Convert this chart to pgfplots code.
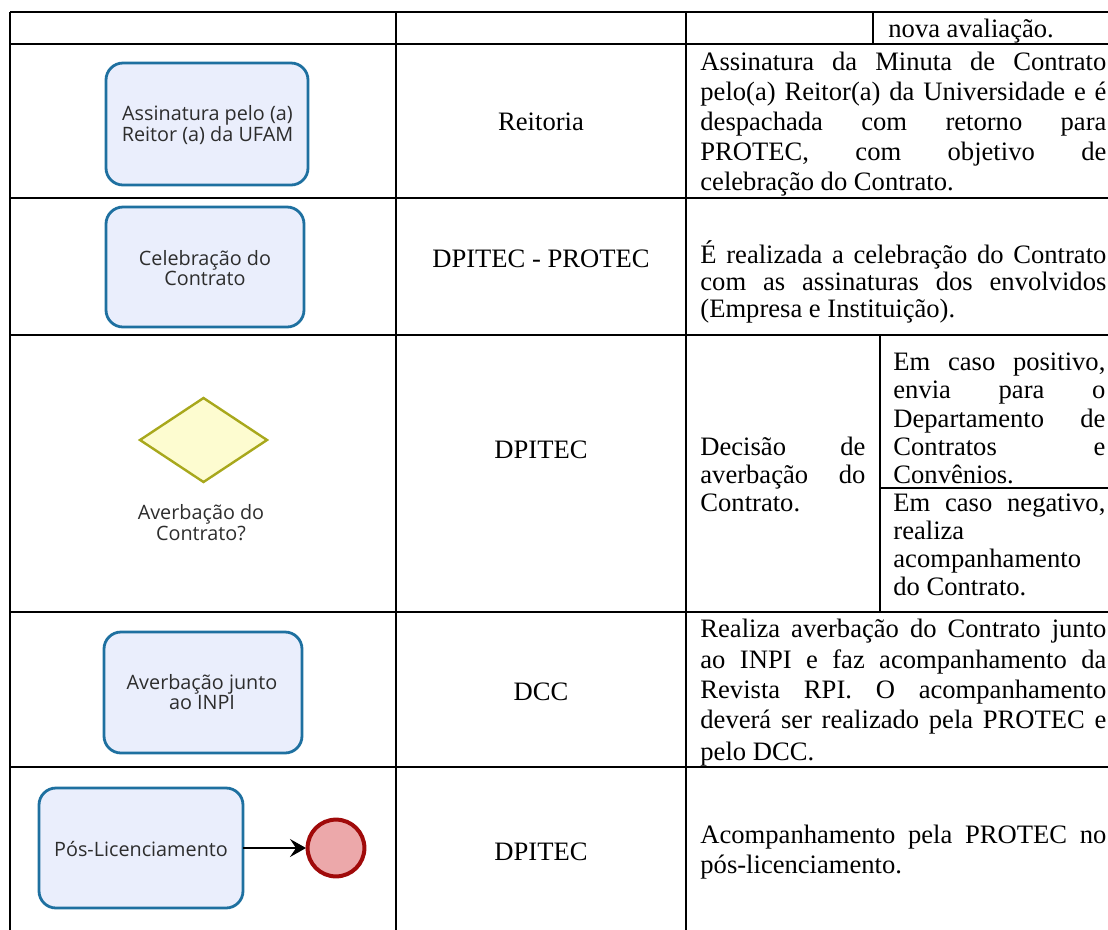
\documentclass[border=0pt]{standalone}
\usepackage{fontspec}
\setmainfont{Liberation Serif}
\newfontfamily\osans{Open Sans}
\usepackage{pgfplots}
\pgfplotsset{compat=1.18}
\usetikzlibrary{arrows.meta}
\definecolor{boxblue}{RGB}{30,112,160}
\definecolor{boxfill}{RGB}{234,238,252}
\definecolor{diafill}{RGB}{253,252,208}
\definecolor{diadraw}{RGB}{168,168,28}
\definecolor{endfill}{RGB}{236,168,170}
\definecolor{enddraw}{RGB}{160,10,10}
\definecolor{lbl}{RGB}{45,45,45}
\newcommand{\tabfont}{\fontsize{13.3}{15}\selectfont}
\newcommand{\boxfont}{\osans\fontsize{9.9}{10.4}\selectfont}
\newcommand{\tjust}[4]{\node[anchor=base west,inner sep=0pt,font=\tabfont] at (axis cs:#1,#2) {\makebox[#3][s]{#4}};}
\newcommand{\tleft}[3]{\node[anchor=base west,inner sep=0pt,font=\tabfont] at (axis cs:#1,#2) {#3};}
\newcommand{\tcent}[3]{\node[anchor=base,inner sep=0pt,font=\tabfont] at (axis cs:#1,#2) {#3};}
\begin{document}
\begin{tikzpicture}
\begin{axis}[at={(0pt,0pt)}, anchor=north west, scale only axis,
  width=554pt, height=465pt, xmin=0, xmax=1108, ymin=0, ymax=930,
  y dir=reverse, hide axis, clip=false]
% table grid
\addplot[black, line width=1.15pt] coordinates {(10,12) (1112,12)};
\addplot[black, line width=1.15pt] coordinates {(10,44) (1112,44)};
\addplot[black, line width=1.15pt] coordinates {(10,198) (1112,198)};
\addplot[black, line width=1.15pt] coordinates {(10,335) (1112,335)};
\addplot[black, line width=1.15pt] coordinates {(880,488) (1112,488)};
\addplot[black, line width=1.15pt] coordinates {(10,612) (1112,612)};
\addplot[black, line width=1.15pt] coordinates {(10,767) (1112,767)};
\addplot[black, line width=1.15pt] coordinates {(10,12) (10,934)};
\addplot[black, line width=1.15pt] coordinates {(396,12) (396,934)};
\addplot[black, line width=1.15pt] coordinates {(686,12) (686,934)};
\addplot[black, line width=1.15pt] coordinates {(873,12) (873,44)};
\addplot[black, line width=1.15pt] coordinates {(880,335) (880,612)};
% flowchart shapes
\draw[rounded corners=8.5pt, draw=boxblue, fill=boxfill, line width=1.4pt] (axis cs:106,63) rectangle (axis cs:308,185);
\node[font=\boxfont, text=lbl, align=center] at (axis cs:207.5,125) {Assinatura pelo (a)\\Reitor (a) da UFAM};
\draw[rounded corners=8.5pt, draw=boxblue, fill=boxfill, line width=1.4pt] (axis cs:106,207) rectangle (axis cs:304,327);
\node[font=\boxfont, text=lbl, align=center] at (axis cs:205,268) {Celebração do\\Contrato};
\draw[draw=diadraw, fill=diafill, line width=1.2pt] (axis cs:140,440) -- (axis cs:203.5,398) -- (axis cs:267,440) -- (axis cs:203.5,482) -- cycle;
\node[font=\boxfont, text=lbl, align=center] at (axis cs:201,523) {Averbação do\\Contrato?};
\draw[rounded corners=8.5pt, draw=boxblue, fill=boxfill, line width=1.4pt] (axis cs:104,632) rectangle (axis cs:302,753);
\node[font=\boxfont, text=lbl, align=center] at (axis cs:202,692) {Averbação junto\\ao INPI};
\draw[rounded corners=8.5pt, draw=boxblue, fill=boxfill, line width=1.4pt] (axis cs:39,788) rectangle (axis cs:243,908);
\node[font=\boxfont, text=lbl, align=center] at (axis cs:141,849) {Pós-Licenciamento};
\draw[black, line width=0.7pt, -{Stealth[length=8pt,width=9pt,inset=3pt]}] (axis cs:243,848) -- (axis cs:306,848);
\draw[draw=enddraw, fill=endfill, line width=2pt] (axis cs:336,848) circle[radius=14.2pt];
% middle column
\tcent{541}{130}{Reitoria}
\tcent{541}{267}{DPITEC - PROTEC}
\tcent{541}{458}{DPITEC}
\tcent{541}{700}{DCC}
\tcent{541}{860}{DPITEC}
% right column
\tleft{888}{37}{nova avaliação.}
\tjust{700}{70}{203pt}{Assinatura da Minuta de Contrato}
\tjust{700}{100}{203pt}{pelo(a) Reitor(a) da Universidade e é}
\tjust{700}{130}{203pt}{despachada com retorno para}
\tjust{700}{160}{203pt}{PROTEC, com objetivo de}
\tleft{700}{190}{celebração do Contrato.}
\tjust{700}{263}{203pt}{É realizada a celebração do Contrato}
\tjust{700}{290}{203pt}{com as assinaturas dos envolvidos}
\tleft{700}{317}{(Empresa e Instituição).}
\tjust{700}{455}{82.5pt}{Decisão de}
\tjust{700}{483}{82.5pt}{averbação do}
\tleft{700}{511}{Contrato.}
\tjust{893}{370}{106pt}{Em caso positivo,}
\tjust{893}{398}{106pt}{envia para o}
\tjust{893}{427}{106pt}{Departamento de}
\tjust{893}{455}{106pt}{Contratos e}
\tleft{893}{483}{Convênios.}
\tjust{893}{511}{106pt}{Em caso negativo,}
\tleft{893}{539}{realiza}
\tleft{893}{567}{acompanhamento}
\tleft{893}{595}{do Contrato.}
\tjust{700}{637}{203pt}{Realiza averbação do Contrato junto}
\tjust{700}{668}{203pt}{ao INPI e faz acompanhamento da}
\tjust{700}{698}{203pt}{Revista RPI. O acompanhamento}
\tjust{700}{728}{203pt}{deverá ser realizado pela PROTEC e}
\tleft{700}{760}{pelo DCC.}
\tjust{700}{843}{203pt}{Acompanhamento pela PROTEC no}
\tleft{700}{873}{pós-licenciamento.}
\end{axis}
\pgfresetboundingbox
\path[use as bounding box] (0pt,0pt) rectangle (554pt,-465pt);
\end{tikzpicture}
\end{document}
